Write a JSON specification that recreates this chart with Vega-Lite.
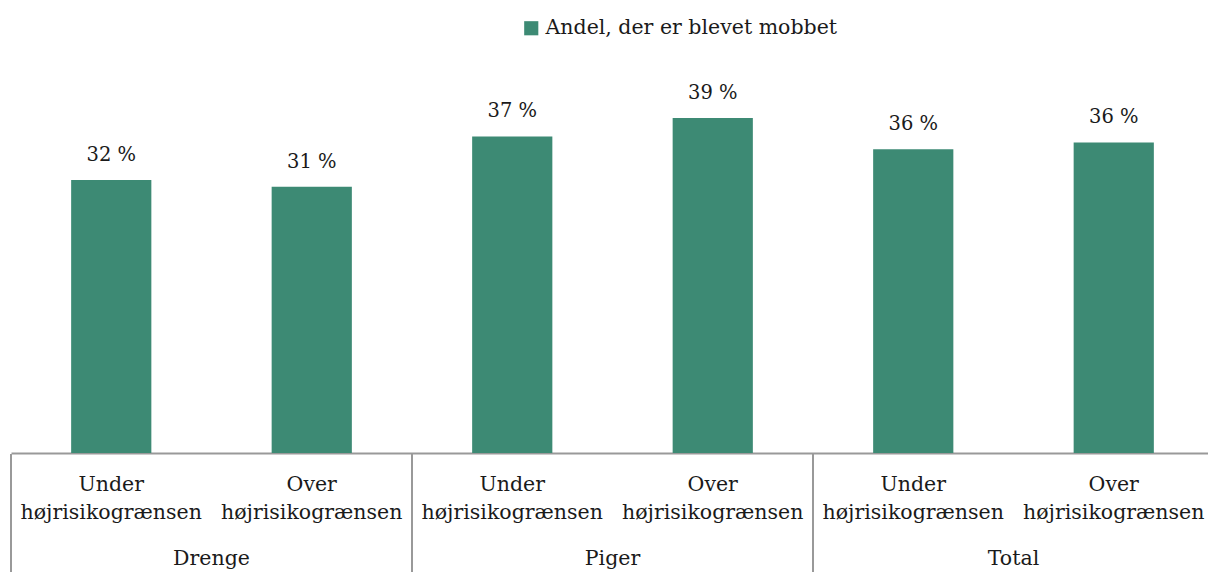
{
  "$schema": "https://vega.github.io/schema/vega-lite/v6.json",
  "padding": {"left": 10, "top": 18, "right": 0, "bottom": 0},
  "background": "white",
  "config": {
    "font": "DejaVu Serif",
    "view": {"stroke": null},
    "concat": {"spacing": 0},
    "text": {"font": "DejaVu Serif", "fontSize": 20.5, "color": "#1a1a1a"}
  },
  "datasets": {
    "bars": [
      {"cat": "Drenge|Under", "group": "Drenge", "sub": "Under|højrisikogrænsen", "serie": "Andel, der er blevet mobbet", "value": 32.0, "label": "32 %"},
      {"cat": "Drenge|Over", "group": "Drenge", "sub": "Over|højrisikogrænsen", "serie": "Andel, der er blevet mobbet", "value": 31.2, "label": "31 %"},
      {"cat": "Piger|Under", "group": "Piger", "sub": "Under|højrisikogrænsen", "serie": "Andel, der er blevet mobbet", "value": 37.1, "label": "37 %"},
      {"cat": "Piger|Over", "group": "Piger", "sub": "Over|højrisikogrænsen", "serie": "Andel, der er blevet mobbet", "value": 39.25, "label": "39 %"},
      {"cat": "Total|Under", "group": "Total", "sub": "Under|højrisikogrænsen", "serie": "Andel, der er blevet mobbet", "value": 35.6, "label": "36 %"},
      {"cat": "Total|Over", "group": "Total", "sub": "Over|højrisikogrænsen", "serie": "Andel, der er blevet mobbet", "value": 36.4, "label": "36 %"}
    ],
    "groups": [
      {"group": "Drenge"},
      {"group": "Piger"},
      {"group": "Total"}
    ]
  },
  "vconcat": [
    {
      "width": 1203,
      "height": 401,
      "data": {"name": "bars"},
      "encoding": {
        "x": {
          "field": "cat", "type": "nominal", "sort": null,
          "scale": {"paddingInner": 0.6, "paddingOuter": 0.3},
          "axis": {"title": null, "labels": false, "ticks": false, "domainColor": "#999999", "domainWidth": 2}
        },
        "y": {
          "field": "value", "type": "quantitative",
          "scale": {"domain": [0, 47], "nice": false},
          "axis": null
        }
      },
      "layer": [
        {
          "mark": {"type": "bar"},
          "encoding": {
            "color": {
              "field": "serie", "type": "nominal",
              "scale": {"range": ["#3D8A74"]},
              "legend": {
                "title": null, "orient": "none", "legendX": 510, "legendY": -34,
                "symbolType": "square", "symbolSize": 200, "symbolStrokeWidth": 0,
                "labelFont": "DejaVu Serif", "labelFontSize": 20.5, "labelColor": "#1a1a1a",
                "labelOffset": 4, "labelLimit": 500, "padding": 0
              }
            }
          }
        },
        {
          "mark": {"type": "text", "baseline": "middle", "dy": -25, "fontSize": 19.5},
          "encoding": {
            "text": {"field": "label", "type": "nominal"}
          }
        }
      ]
    },
    {
      "width": 1203,
      "height": 120,
      "resolve": {"scale": {"x": "independent"}},
      "layer": [
        {
          "data": {"name": "bars"},
          "mark": {"type": "text", "baseline": "middle", "lineBreak": "|", "lineHeight": 28, "dy": -29},
          "encoding": {
            "x": {
              "field": "cat", "type": "nominal", "sort": null,
              "scale": {"paddingInner": 0.6, "paddingOuter": 0.3},
              "axis": null
            },
            "text": {"field": "sub", "type": "nominal"}
          }
        },
        {
          "data": {"name": "groups"},
          "mark": {"type": "rule", "color": "#999999", "strokeWidth": 2},
          "encoding": {
            "x": {
              "field": "group", "type": "nominal", "sort": null, "bandPosition": 0,
              "scale": {"paddingInner": 0, "paddingOuter": 0},
              "axis": null
            }
          }
        },
        {
          "data": {"name": "groups"},
          "mark": {"type": "text", "baseline": "middle", "dy": 45},
          "encoding": {
            "x": {
              "field": "group", "type": "nominal", "sort": null,
              "scale": {"paddingInner": 0, "paddingOuter": 0},
              "axis": null
            },
            "text": {"field": "group", "type": "nominal"}
          }
        }
      ]
    }
  ]
}
